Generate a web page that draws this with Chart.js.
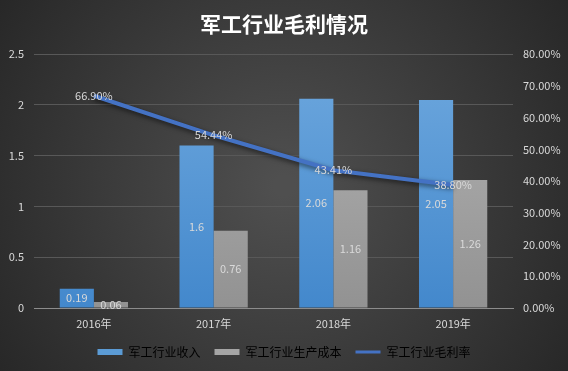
<!DOCTYPE html>
<html>
<head>
<meta charset="utf-8">
<script src="https://cdn.jsdelivr.net/npm/chart.js@4/dist/chart.umd.min.js"></script>
<style>
  html, body { margin: 0; padding: 0; background: #333; }
  #wrap { width: 568px; height: 371px; }
</style>
</head>
<body>
<div id="wrap"><canvas id="chart" width="568" height="371"></canvas></div>
<script>
// chart data
const years = ['2016年', '2017年', '2018年', '2019年'];
const revenue = [0.19, 1.6, 2.06, 2.05];
const cost = [0.06, 0.76, 1.16, 1.26];
const margin = [0.669, 0.5444, 0.4341, 0.388];
const seriesNames = ['军工行业收入', '军工行业生产成本', '军工行业毛利率'];

const FONT = '"Noto Sans CJK SC", "Noto Sans", sans-serif';
const TEXT = '#d9d9d9';

// vertical gradient for the bars
function barGradient(ctx, top, bottom) {
    const chart = ctx.chart;
    const area = chart.chartArea;
    if (!area) return top;
    const g = chart.ctx.createLinearGradient(0, area.top, 0, area.bottom);
    g.addColorStop(0, top);
    g.addColorStop(1, bottom);
    return g;
}

// dark radial background
const background = {
    id: 'background',
    beforeDraw(chart) {
        const c = chart.ctx;
        const w = chart.width, h = chart.height;
        const g = c.createRadialGradient(w / 2, h / 2, 10, w / 2, h / 2, w * 0.62);
        g.addColorStop(0, '#4f4f4f');
        g.addColorStop(1, '#262626');
        c.save();
        c.fillStyle = g;
        c.fillRect(0, 0, w, h);
        c.restore();
    }
};

// shadow under the line
const lineShadow = {
    id: 'lineShadow',
    beforeDatasetDraw(chart, args) {
        if (args.meta.type !== 'line') return;
        const c = chart.ctx;
        c.save();
        c.shadowColor = 'rgba(0,0,0,0.6)';
        c.shadowBlur = 5;
        c.shadowOffsetY = 2;
    },
    afterDatasetDraw(chart, args) {
        if (args.meta.type !== 'line') return;
        chart.ctx.restore();
    }
};

// value labels on bars and points
const valueLabels = {
    id: 'valueLabels',
    afterDatasetsDraw(chart) {
        const c = chart.ctx;
        c.save();
        c.font = '11px ' + FONT;
        c.fillStyle = TEXT;
        c.textAlign = 'center';
        c.textBaseline = 'middle';
        chart.data.datasets.forEach((ds, i) => {
            const meta = chart.getDatasetMeta(i);
            meta.data.forEach((el, j) => {
                const v = ds.data[j];
                if (meta.type === 'bar') {
                    c.fillText(String(v), el.x, (el.y + el.base) / 2);
                } else {
                    c.fillText((v * 100).toFixed(2) + '%', el.x, el.y);
                }
            });
        });
        c.restore();
    }
};

new Chart(document.getElementById('chart'), {
    type: 'bar',
    data: {
        labels: years,
        datasets: [
            {
                label: seriesNames[0],
                data: revenue,
                yAxisID: 'y',
                order: 1,
                backgroundColor: ctx => barGradient(ctx, '#6ea8de', '#4388cc'),
                barPercentage: 1,
                categoryPercentage: 0.57
            },
            {
                label: seriesNames[1],
                data: cost,
                yAxisID: 'y',
                order: 1,
                backgroundColor: ctx => barGradient(ctx, '#b4b4b4', '#929292'),
                barPercentage: 1,
                categoryPercentage: 0.57
            },
            {
                type: 'line',
                label: seriesNames[2],
                data: margin,
                yAxisID: 'y1',
                order: 0,
                borderColor: '#4472c4',
                borderWidth: 4,
                pointRadius: 0,
                tension: 0
            }
        ]
    },
    options: {
        responsive: false,
        animation: false,
        layout: { padding: { left: 0, right: 0, top: 0, bottom: 3 } },
        plugins: {
            tooltip: { enabled: false },
            title: {
                display: true,
                text: '军工行业毛利情况',
                color: '#ffffff',
                font: { family: FONT, size: 21, weight: 'bold' },
                padding: { top: 11, bottom: 18 }
            },
            legend: {
                position: 'bottom',
                labels: {
                    color: TEXT,
                    font: { family: FONT, size: 12 },
                    usePointStyle: true,
                    pointStyleWidth: 25,
                    boxHeight: 6,
                    padding: 14,
                    generateLabels: () => [
                        { text: seriesNames[0], fillStyle: '#5b9bd5', strokeStyle: '#5b9bd5', lineWidth: 0, pointStyle: 'rect' },
                        { text: seriesNames[1], fillStyle: '#a5a5a5', strokeStyle: '#a5a5a5', lineWidth: 0, pointStyle: 'rect' },
                        { text: seriesNames[2], fillStyle: '#4472c4', strokeStyle: '#4472c4', lineWidth: 3, pointStyle: 'line' }
                    ]
                }
            }
        },
        scales: {
            x: {
                grid: { display: false },
                border: { color: '#8c8c8c', width: 1 },
                ticks: { color: TEXT, font: { family: FONT, size: 11 }, padding: 1 },
                afterFit: s => { s.height = 24; }
            },
            y: {
                position: 'left',
                min: 0,
                max: 2.5,
                grid: { color: '#585858', drawTicks: false },
                border: { display: false },
                ticks: {
                    stepSize: 0.5,
                    color: TEXT,
                    font: { family: FONT, size: 11 },
                    padding: 10,
                    callback: v => String(Math.round(v * 10) / 10)
                },
                afterFit: s => { s.width = 34; }
            },
            y1: {
                position: 'right',
                min: 0,
                max: 0.8,
                grid: { drawOnChartArea: false, drawTicks: false },
                border: { display: false },
                ticks: {
                    stepSize: 0.1,
                    color: TEXT,
                    font: { family: FONT, size: 11 },
                    padding: 10,
                    callback: v => (v * 100).toFixed(2) + '%'
                },
                afterFit: s => { s.width = 55; }
            }
        }
    },
    plugins: [background, lineShadow, valueLabels]
});
</script>
</body>
</html>
